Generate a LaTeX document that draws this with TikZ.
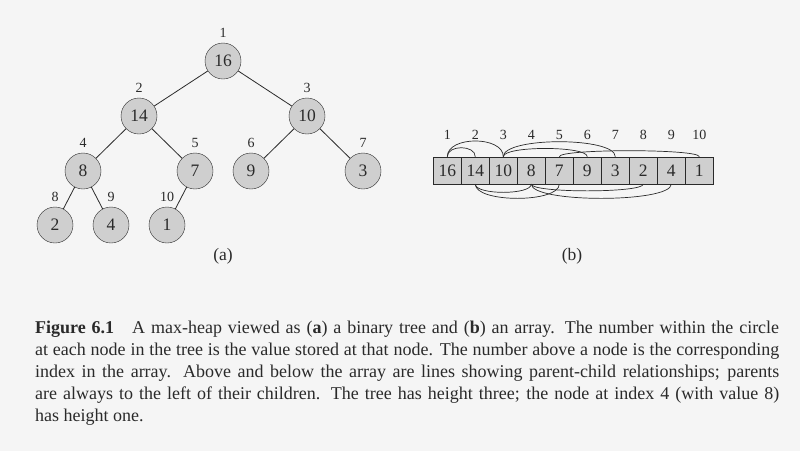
\documentclass[tikz,border=0pt]{standalone}
\usepackage{fontspec}
\setmainfont{Liberation Serif}
\usepackage{xcolor}
\definecolor{paper}{HTML}{F5F5F5}
\definecolor{heapgray}{HTML}{CFCFCF}
\definecolor{ink}{HTML}{2A2A2A}

\tikzset{
  heapnode/.style={draw=ink, circle, fill=heapgray, minimum size=36pt, inner sep=0pt,
    font=\fontsize{17.5}{20}\selectfont, text=ink},
  cell/.style={draw=ink, rectangle, fill=heapgray, minimum width=28pt, minimum height=27pt,
    inner sep=0pt, font=\fontsize{17.5}{20}\selectfont, text=ink},
  idx/.style={font=\fontsize{14}{16}\selectfont, text=ink, inner sep=1pt},
  treeidx/.style={label={[idx, label distance=4.3pt]above:#1}},
  cellidx/.style={label={[idx, label distance=16pt]above:#1}},
  link/.style={draw=ink, line width=0.8pt},
  arc/.style={draw=ink, line width=0.7pt}
}

\begin{document}
\begin{tikzpicture}[x=1pt, y=-1pt]
			\fill[paper] (0,0) rectangle (800,451);
			\useasboundingbox (0,0) rectangle (800,451);
			% (a) the tree
			\node[heapnode, treeidx=1] (A) at (223,61){16};
			\node[heapnode, treeidx=2] (B) at (139,116){14};
			\node[heapnode, treeidx=3] (C) at (307,116){10};
			\node[heapnode, treeidx=4] (D) at (83,171){8};
			\node[heapnode, treeidx=5] (E) at (195,171){7};
			\node[heapnode, treeidx=6] (F) at (251,171){9};
			\node[heapnode, treeidx=7] (G) at (363,171){3};
			\node[heapnode, treeidx=8] (H) at (55,225){2};
			\node[heapnode, treeidx=9] (I) at (111,225){4};
			\node[heapnode, treeidx=10] (J) at (167,225){1};
			\draw[link] (A) -- (B);
			\draw[link] (A) -- (C);
			\draw[link] (B) -- (D);
			\draw[link] (B) -- (E);
			\draw[link] (C) -- (F);
			\draw[link] (C) -- (G);
			\draw[link] (D) -- (H);
			\draw[link] (D) -- (I);
			\draw[link] (E) -- (J);
			\node[text=ink, font=\fontsize{17.5}{20}\selectfont] (capA) at (223,256){(a)};
			% (b) the array
			\node[cell, cellidx=1] (c1) at (447.3,170.4){16};
			\node[cell, cellidx=2] (c2) at (475.3,170.4){14};
			\node[cell, cellidx=3] (c3) at (503.3,170.4){10};
			\node[cell, cellidx=4] (c4) at (531.3,170.4){8};
			\node[cell, cellidx=5] (c5) at (559.3,170.4){7};
			\node[cell, cellidx=6] (c6) at (587.3,170.4){9};
			\node[cell, cellidx=7] (c7) at (615.3,170.4){3};
			\node[cell, cellidx=8] (c8) at (643.3,170.4){2};
			\node[cell, cellidx=9] (c9) at (671.3,170.4){4};
			\node[cell, cellidx=10] (c10) at (699.3,170.4){1};
			% parent-child lines above
			\draw[arc] (c1.north) .. controls +(0,-12) and +(0,-12) .. (c2.north);
			\draw[arc] (c1.north) .. controls +(0,-21) and +(0,-21) .. (c3.north);
			\draw[arc] (c3.north) .. controls +(0,-11) and +(0,-11) .. (c6.north);
			\draw[arc] (c3.north) .. controls +(0,-20) and +(0,-20) .. (c7.north);
			\draw[arc] (c5.north) .. controls +(0,-8) and +(0,-8) .. (c10.north);
			% parent-child lines below
			\draw[arc] (c2.south) .. controls +(0,11) and +(0,11) .. (c4.south);
			\draw[arc] (c2.south) .. controls +(0,19) and +(0,19) .. (c5.south);
			\draw[arc] (c4.south) .. controls +(0,9) and +(0,9) .. (c8.south);
			\draw[arc] (c4.south) .. controls +(0,19) and +(0,19) .. (c9.south);
			\node[text=ink, font=\fontsize{17.5}{20}\selectfont] (capB) at (572,256){(b)};
			% caption
			\node[anchor=base west, inner sep=0pt, text width=744pt, align=justify, text=ink,
			  font=\fontsize{18}{22}\selectfont] (caption) at (35,333)
			  {\textbf{Figure 6.1}\hspace{1em}A max-heap viewed as (\textbf{a}) a binary tree and (\textbf{b}) an array. The number within the circle\linebreak
			  at each node in the tree is the value stored at that node. The number above a node is the corresponding\linebreak
			  index in the array. Above and below the array are lines showing parent-child relationships; parents\linebreak
			  are always to the left of their children. The tree has height three; the node at index 4 (with value 8)\linebreak
			  has height one.};
		\end{tikzpicture}
\end{document}
